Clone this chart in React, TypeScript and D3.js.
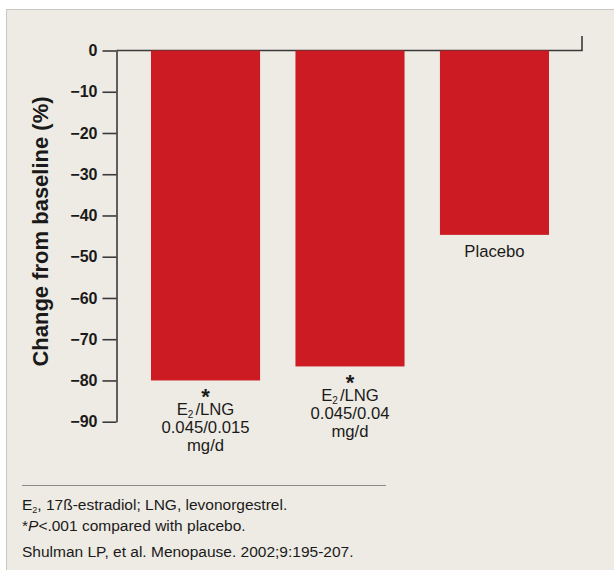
import * as d3 from "d3";
import { useEffect, useRef } from "react";

// values
const groups = ["E2/LNG 0.045/0.015 mg/d", "E2/LNG 0.045/0.04 mg/d", "Placebo"];
const changes = [-80, -76.6, -44.7];
const doses = ["0.045/0.015", "0.045/0.04", ""];
const starred = [true, true, false];
const yTicks = [0, -10, -20, -30, -40, -50, -60, -70, -80, -90];

const FONT = "'Liberation Sans', Arial, Helvetica, sans-serif";

function App() {
  const width = 614;
  const height = 570;
  const axisX = 116.5;
  const plotRight = 582;
  const ref = useRef<SVGSVGElement>(null);

  useEffect(() => {
    const svg = d3.select(ref.current);
    svg.selectAll("*").remove();

    // panel
    svg
      .append("rect")
      .attr("x", 6.5)
      .attr("y", 9.5)
      .attr("width", width)
      .attr("height", height)
      .attr("fill", "#eeebe4")
      .attr("stroke", "#c9c7c2");

    const x = d3
      .scaleBand()
      .domain(groups)
      .range([151, 549])
      .paddingInner(0.245)
      .paddingOuter(0);

    const y = d3.scaleLinear().domain([0, -90]).range([50.5, 421.7]);

    // zero line with the small end tick on the right
    svg
      .append("path")
      .attr("d", `M${axisX},${y(0)}H${plotRight}V36`)
      .attr("fill", "none")
      .attr("stroke", "#3a3a3a")
      .attr("stroke-width", 1.6);

    const yAxis = svg
      .append("g")
      .attr("transform", `translate(${axisX},0)`)
      .call(
        d3
          .axisLeft(y)
          .tickValues(yTicks)
          .tickSize(14)
          .tickSizeOuter(0)
          .tickPadding(5)
          .tickFormat((d) => (+d === 0 ? "0" : "\u2212" + Math.abs(+d)))
      );
    yAxis.selectAll("path, line").attr("stroke", "#3a3a3a").attr("stroke-width", 1.6);
    yAxis
      .selectAll("text")
      .attr("font-family", FONT)
      .attr("font-size", 16)
      .attr("font-weight", "bold")
      .attr("fill", "#1a1a1a");

    // y title
    svg
      .append("text")
      .attr("transform", "translate(48,231.5) rotate(-90)")
      .attr("text-anchor", "middle")
      .attr("font-family", FONT)
      .attr("font-size", 22)
      .attr("font-weight", "bold")
      .attr("fill", "#1a1a1a")
      .text("Change from baseline (%)");

    // bars
    svg
      .append("g")
      .attr("fill", "#cc1b22")
      .selectAll("rect")
      .data(groups)
      .join("rect")
      .attr("x", (d) => x(d)!)
      .attr("y", y(0))
      .attr("width", x.bandwidth())
      .attr("height", (d, i) => y(changes[i]) - y(0));

    // labels under bars
    groups.forEach((g, i) => {
      const cx = x(g)! + x.bandwidth() / 2;
      const bottom = y(changes[i]);
      const lbl = svg
        .append("g")
        .attr("font-family", FONT)
        .attr("fill", "#1a1a1a")
        .attr("text-anchor", "middle");
      if (!starred[i]) {
        lbl
          .append("text")
          .attr("x", cx)
          .attr("y", bottom + 22)
          .attr("font-size", 16.7)
          .text(g);
        return;
      }
      lbl
        .append("text")
        .attr("x", cx)
        .attr("y", bottom + 23.5)
        .attr("font-size", 22)
        .attr("font-weight", "bold")
        .text("*");
      const e2 = lbl
        .append("text")
        .attr("x", cx)
        .attr("y", bottom + 34.3)
        .attr("font-size", 16.7);
      e2.append("tspan").text("E");
      e2.append("tspan").attr("font-size", 10).attr("dy", 3).text("2");
      e2.append("tspan").attr("dy", -3).attr("dx", 2).text("/LNG");
      lbl
        .append("text")
        .attr("x", cx)
        .attr("y", bottom + 52.6)
        .attr("font-size", 16.7)
        .text(doses[i]);
      lbl
        .append("text")
        .attr("x", cx)
        .attr("y", bottom + 71)
        .attr("font-size", 16.7)
        .text("mg/d");
    });

    // footnotes
    svg
      .append("line")
      .attr("x1", 22)
      .attr("x2", 386)
      .attr("y1", 485.5)
      .attr("y2", 485.5)
      .attr("stroke", "#8a8a8a");

    const notes = svg
      .append("g")
      .attr("font-family", FONT)
      .attr("font-size", 15.5)
      .attr("fill", "#1a1a1a");
    const n1 = notes.append("text").attr("x", 22).attr("y", 510);
    n1.append("tspan").text("E");
    n1.append("tspan").attr("font-size", 9).attr("dy", 3).text("2");
    n1.append("tspan").attr("dy", -3).text(", 17ß-estradiol; LNG, levonorgestrel.");
    const n2 = notes.append("text").attr("x", 22).attr("y", 530.5);
    n2.append("tspan").text("*");
    n2.append("tspan").attr("font-style", "italic").text("P");
    n2.append("tspan").text("<.001 compared with placebo.");
    notes
      .append("text")
      .attr("x", 22)
      .attr("y", 557.3)
      .text("Shulman LP, et al. Menopause. 2002;9:195-207.");
  }, []);

  return (
    <svg
      ref={ref}
      width={width}
      height={height}
      viewBox={`0 0 ${width} ${height}`}
      style={{ position: "absolute", left: 0, top: 0, display: "block" }}
    />
  );
}

export default App;
